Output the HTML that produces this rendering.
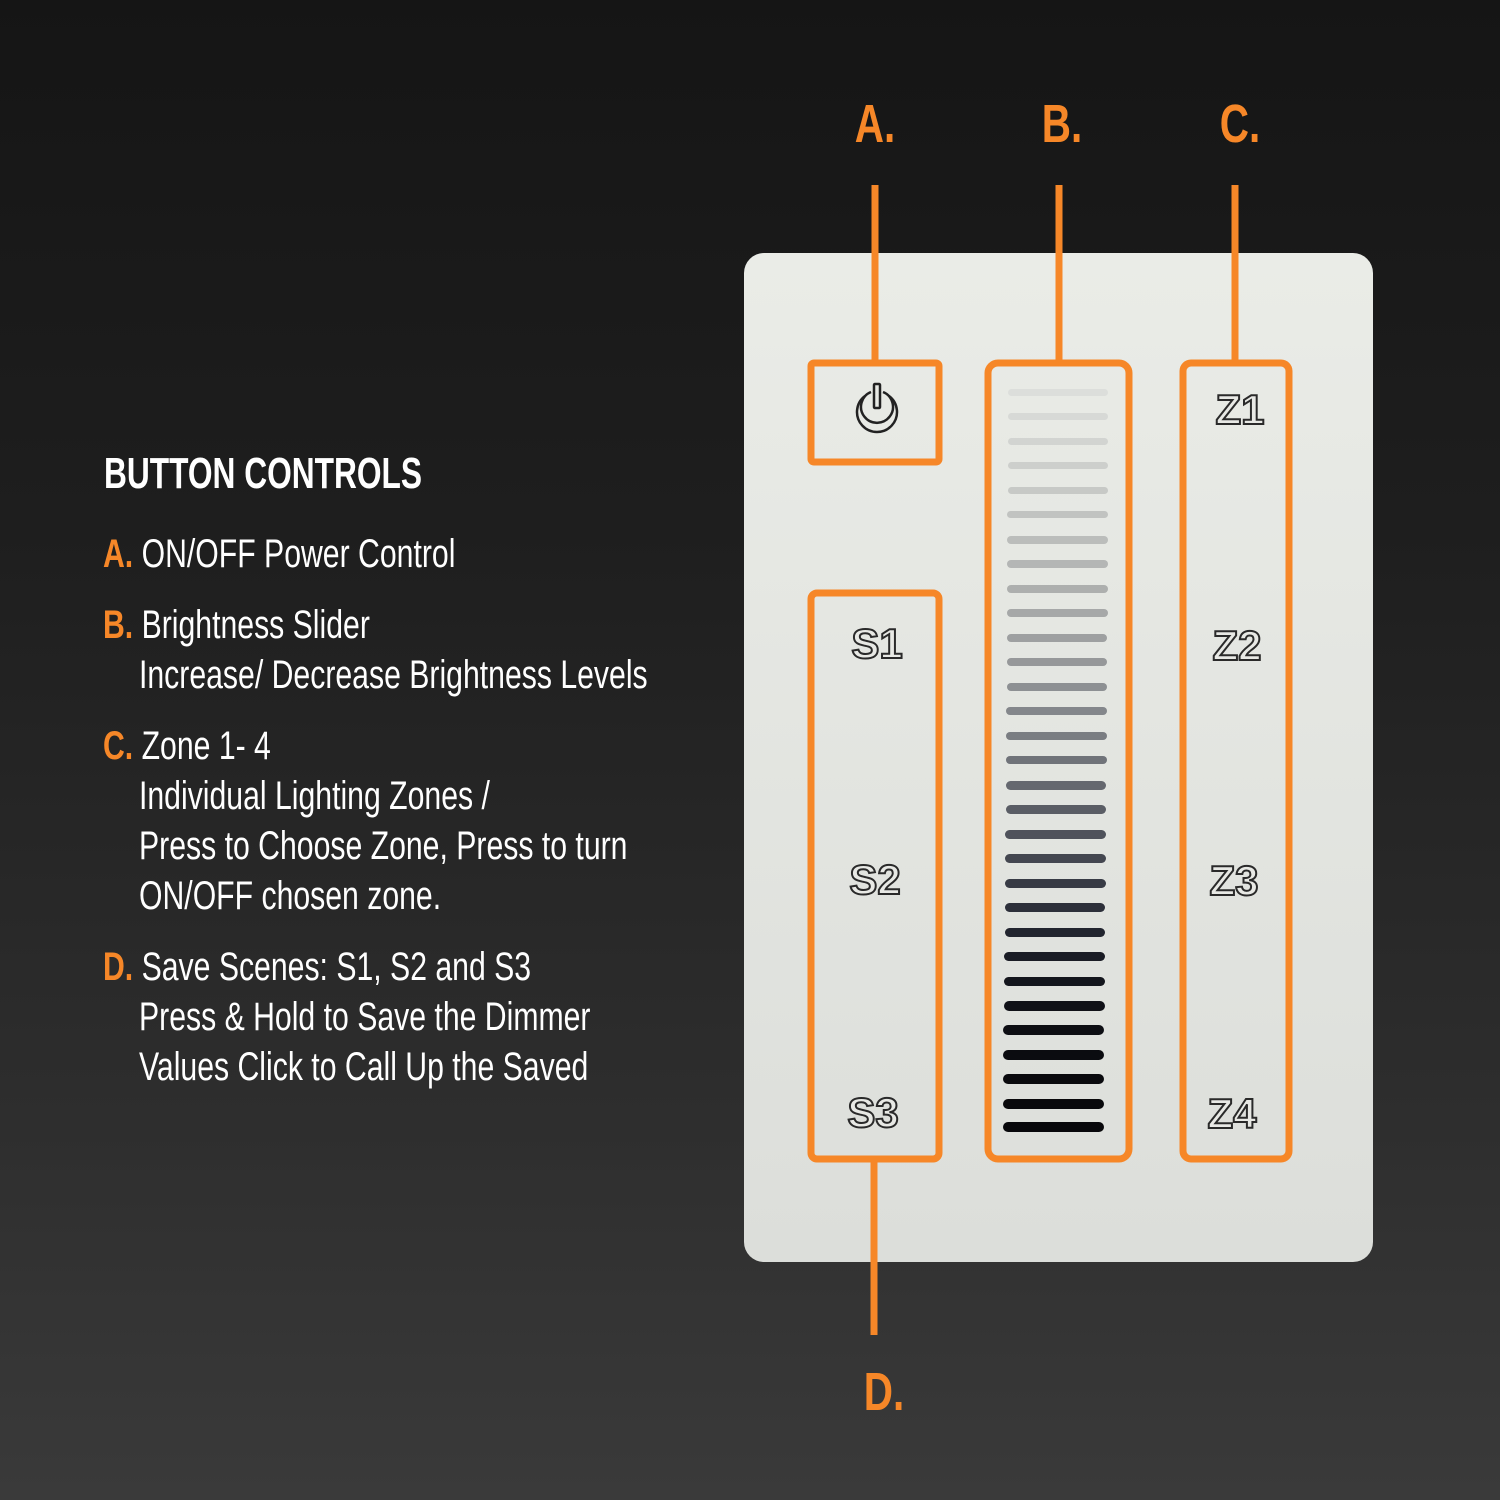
<!DOCTYPE html>
<html><head><meta charset="utf-8"><style>
html,body{margin:0;padding:0}
body{width:1500px;height:1500px;position:relative;overflow:hidden;background:linear-gradient(180deg,#151515 0%,#1e1e1e 35%,#2e2e2e 75%,#3a3a3a 100%);font-family:"Liberation Sans",sans-serif}
.t{position:absolute;color:#fff;font-size:40px;white-space:nowrap;transform:scaleX(0.755);transform-origin:0 0;line-height:1}
.o{color:#f68728;font-weight:bold}
.h{font-weight:bold;font-size:44px;transform:scaleX(0.72)}
</style></head><body>
<svg width="1500" height="1500" style="position:absolute;left:0;top:0">
<defs>
<linearGradient id="pl" x1="0" y1="0" x2="0" y2="1"><stop offset="0" stop-color="#eaece7"/><stop offset="1" stop-color="#dcdeda"/></linearGradient>
</defs>
<rect x="744" y="253" width="629" height="1009" rx="20" fill="url(#pl)"/>
<g fill="none" stroke="#f68728" stroke-width="7">
<line x1="875" y1="185" x2="875" y2="362"/>
<line x1="1059" y1="185" x2="1059" y2="362"/>
<line x1="1235" y1="185" x2="1235" y2="362"/>
<line x1="874" y1="1162" x2="874" y2="1335"/>
<rect x="811" y="363" width="128" height="99" rx="3"/>
<rect x="811" y="593" width="128" height="566" rx="6"/>
<rect x="988" y="363" width="141" height="796" rx="10"/>
<rect x="1183" y="363" width="106" height="796" rx="8"/>
</g>
<g fill="none" stroke="#222" stroke-width="2.5">
<path d="M865 396 A20 20 0 1 0 889 396"/>
<path d="M871 392 A16 16 0 1 0 883 392" />
<rect x="874" y="384" width="6" height="24" rx="1"/>
</g>
<g font-family="Liberation Sans,sans-serif" font-weight="bold" font-size="42" fill="#e8e9e5" stroke="#2a2a2a" stroke-width="2" text-anchor="middle">
<text x="877" y="658">S1</text><text x="875" y="894">S2</text><text x="873" y="1127">S3</text>
<text x="1240" y="424">Z1</text><text x="1237" y="660">Z2</text><text x="1234" y="895">Z3</text><text x="1232" y="1128">Z4</text>
</g>
<g font-family="Liberation Sans,sans-serif" font-weight="bold" font-size="54" fill="#f68728" text-anchor="middle">
<text x="875" y="142" transform="translate(875 0) scale(0.75 1) translate(-875 0)">A.</text>
<text x="1062" y="142" transform="translate(1062 0) scale(0.75 1) translate(-1062 0)">B.</text>
<text x="1240" y="142" transform="translate(1240 0) scale(0.75 1) translate(-1240 0)">C.</text>
<text x="884" y="1410" transform="translate(884 0) scale(0.75 1) translate(-884 0)">D.</text>
</g>
<g>
<rect x="1008" y="389" width="100" height="7" rx="3.5" fill="#dcdedb"/>
<rect x="1008" y="413" width="100" height="7" rx="3.5" fill="#d7d9d6"/>
<rect x="1008" y="438" width="100" height="7" rx="3.5" fill="#d2d4d1"/>
<rect x="1008" y="462" width="100" height="7" rx="3.5" fill="#cdcfcc"/>
<rect x="1008" y="487" width="100" height="7" rx="3.5" fill="#c7c9c6"/>
<rect x="1007" y="511" width="101" height="7" rx="3.5" fill="#c1c3c1"/>
<rect x="1007" y="536" width="101" height="8" rx="4" fill="#bbbdbb"/>
<rect x="1007" y="560" width="101" height="8" rx="4" fill="#b4b6b5"/>
<rect x="1007" y="585" width="101" height="8" rx="4" fill="#adafae"/>
<rect x="1007" y="609" width="101" height="8" rx="4" fill="#a6a8a8"/>
<rect x="1007" y="634" width="100" height="8" rx="4" fill="#9ea0a1"/>
<rect x="1007" y="658" width="100" height="8" rx="4" fill="#96989a"/>
<rect x="1007" y="683" width="100" height="8" rx="4" fill="#8d9093"/>
<rect x="1006" y="707" width="101" height="8" rx="4" fill="#84878b"/>
<rect x="1006" y="732" width="101" height="8" rx="4" fill="#7a7d82"/>
<rect x="1006" y="756" width="101" height="8" rx="4" fill="#707379"/>
<rect x="1006" y="781" width="100" height="9" rx="4.5" fill="#65686f"/>
<rect x="1006" y="805" width="100" height="9" rx="4.5" fill="#5a5d65"/>
<rect x="1005" y="830" width="101" height="9" rx="4.5" fill="#4f525b"/>
<rect x="1005" y="854" width="101" height="9" rx="4.5" fill="#444750"/>
<rect x="1005" y="879" width="101" height="9" rx="4.5" fill="#383b45"/>
<rect x="1005" y="903" width="100" height="9" rx="4.5" fill="#2d303a"/>
<rect x="1005" y="928" width="100" height="9" rx="4.5" fill="#22252f"/>
<rect x="1004" y="952" width="101" height="9" rx="4.5" fill="#1a1c25"/>
<rect x="1004" y="977" width="101" height="9" rx="4.5" fill="#14161d"/>
<rect x="1004" y="1001" width="101" height="10" rx="5" fill="#101117"/>
<rect x="1003" y="1025" width="101" height="10" rx="5" fill="#0d0e13"/>
<rect x="1003" y="1050" width="101" height="10" rx="5" fill="#0b0c10"/>
<rect x="1003" y="1074" width="101" height="10" rx="5" fill="#0a0a0e"/>
<rect x="1003" y="1099" width="101" height="10" rx="5" fill="#09090c"/>
<rect x="1003" y="1122" width="101" height="10" rx="5" fill="#08080b"/>
</g>
</svg>
<div class="t h" style="left:104px;top:452px">BUTTON CONTROLS</div>
<div class="t" style="left:103px;top:534px"><span class="o">A.</span> ON/OFF Power Control</div>
<div class="t" style="left:103px;top:605px"><span class="o">B.</span> Brightness Slider</div>
<div class="t" style="left:139px;top:655px">Increase/ Decrease Brightness Levels</div>
<div class="t" style="left:103px;top:726px"><span class="o">C.</span> Zone 1- 4</div>
<div class="t" style="left:139px;top:776px">Individual Lighting Zones /</div>
<div class="t" style="left:139px;top:826px">Press to Choose Zone, Press to turn</div>
<div class="t" style="left:139px;top:876px">ON/OFF chosen zone.</div>
<div class="t" style="left:103px;top:947px"><span class="o">D.</span> Save Scenes: S1, S2 and S3</div>
<div class="t" style="left:139px;top:997px">Press &amp; Hold to Save the Dimmer</div>
<div class="t" style="left:139px;top:1047px">Values Click to Call Up the Saved</div>
</body></html>
